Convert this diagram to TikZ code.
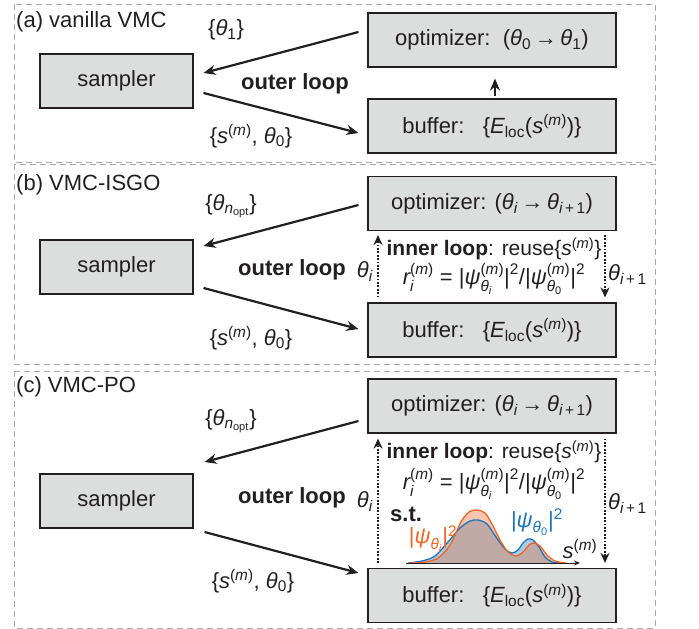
\documentclass[tikz,border=0pt]{standalone}
\usepackage{amsmath}
\usepackage{fontspec}
\setmainfont{Liberation Sans}
\usetikzlibrary{arrows.meta}
\definecolor{ink}{HTML}{231F20}
\definecolor{boxgray}{HTML}{DCDDDD}
\definecolor{framegray}{HTML}{A7A9AC}
\definecolor{psiorange}{HTML}{F26522}
\definecolor{psiblue}{HTML}{1C75BC}
\definecolor{orangefill}{HTML}{F7C6B0}
\definecolor{bluefill}{HTML}{A8CDEA}
\definecolor{mixfill}{HTML}{C1AAA6}
\newcommand{\It}[1]{\text{\itshape #1}}
\newcommand{\Rm}[1]{\text{\upshape #1}}
\newcommand{\mpar}{\Rm{(}\It{m}\Rm{)}}
\newcommand{\smm}{$\It{s}^{\mpar}$}
\newcommand{\thsub}[1]{$\It{θ}_{#1}$}
\newcommand{\thnopt}{$\It{θ}_{\It{n}_{\Rm{opt}}}$}
\newcommand{\Elocs}{$\It{E}_{\Rm{loc}}$(\smm)}
\newcommand{\rformula}{$\It{r}_{\It{i}}^{\mpar}\Rm{ = |}\It{ψ}^{\mpar}_{\It{θ}_{\It{i}}}\Rm{|}^{\Rm{2}}\Rm{/|}\It{ψ}^{\mpar}_{\It{θ}_{\Rm{0}}}\Rm{|}^{\Rm{2}}$}
\newcommand{\thip}{\thsub{\It{i}\Rm{\,+\,1}}}
\begin{document}
\begin{tikzpicture}[x=1pt,y=-1pt,
  every node/.style={text=ink, font=\fontsize{22}{26}\selectfont, inner sep=0pt},
  boldlabel/.style={font=\fontsize{22}{26}\selectfont\bfseries},
  innerlabel/.style={font=\fontsize{21}{25}\selectfont},
  boxnode/.style={draw=ink, line width=1.1pt, fill=boxgray, minimum width=248pt, minimum height=54pt},
  sampbox/.style={boxnode, minimum width=153pt},
  frame/.style={draw=framegray, line width=0.9pt, dash pattern=on 6pt off 4pt},
  arr/.style={draw=ink, line width=2.2pt, -{Stealth[length=12pt,width=10pt]}},
  dotarr/.style={draw=ink, line width=1.9pt, dash pattern=on 1.8pt off 1.6pt, -{Stealth[length=10pt,width=9pt]}},
  axisarr/.style={draw=ink, line width=0.9pt, -{Stealth[length=6pt,width=5pt]}}
]
\useasboundingbox (0,0) rectangle (699,629);
% panel frames
\draw[frame] (14,4) rectangle (655,162);
\draw[frame] (14,164) rectangle (655,364);
\draw[frame] (14,371) rectangle (655,628);

% ---------------- (a)
\node[anchor=west] (titleA) at (16,22) {(a) vanilla VMC};
\node[sampbox] (samA) at (116.5,81) {sampler};
\node[boxnode] (optA) at (492,40) {optimizer:\ \ (\thsub{\Rm{0}}\,→\,\thsub{\Rm{1}})};
\node[boxnode] (bufA) at (492,126) {buffer:\ \ \ \{\Elocs\}};
\node (thA) at (226,30) {\{\thsub{\Rm{1}}\}};
\node[boldlabel] (outerA) at (295,84) {outer loop};
\node (sthA) at (251,136) {\{\smm, \thsub{\Rm{0}}\}};
\draw[arr] ([shift={(-9,-8)}]optA.west) -- ([shift={(10,-8)}]samA.east);
\draw[arr] ([shift={(10,12)}]samA.east) -- ([shift={(-9,7)}]bufA.west);
\draw[arr] ([shift={(3,-2)}]bufA.north) -- ([shift={(3,11)}]optA.south);

% ---------------- (b)
\node[anchor=west] (titleB) at (16,185) {(b) VMC-ISGO};
\node[sampbox] (samB) at (116.5,267) {sampler};
\node[boxnode] (optB) at (492,203.5) {optimizer: (\thsub{\It{i}}\,→\,\thip)};
\node[boxnode] (bufB) at (492,330) {buffer:\ \ \ \{\Elocs\}};
\node (thB) at (231,206) {\{\thnopt\}};
\node[boldlabel] (outerB) at (292,270) {outer loop};
\node[anchor=east] (thiB) at (373,272) {\thsub{\It{i}}};
\node (sthB) at (251,338) {\{\smm, \thsub{\Rm{0}}\}};
\node[innerlabel] (innerB) at (494,249) {\textbf{inner loop}: reuse\{\smm\}};
\node (rB) at (494,279) {\rformula};
\node[anchor=west] (thipB) at (608,275) {\thip};
\draw[arr] ([shift={(-9,1.5)}]optB.west) -- ([shift={(10,-21)}]samB.east);
\draw[arr] ([shift={(10,21)}]samB.east) -- ([shift={(-9,-1)}]bufB.west);
\draw[dotarr] ([shift={(-114,-5)}]bufB.north) -- ([shift={(-114,4)}]optB.south);
\draw[dotarr] ([shift={(113,4)}]optB.south) -- ([shift={(113,-5)}]bufB.north);

% ---------------- (c)
\node[anchor=west] (titleC) at (16,387) {(c) VMC-PO};
\node[sampbox] (samC) at (116.5,501) {sampler};
\node[boxnode] (optC) at (492,406) {optimizer: (\thsub{\It{i}}\,→\,\thip)};
\node[boxnode] (bufC) at (492,595.5) {buffer:\ \ \ \{\Elocs\}};
\node (thC) at (231,421) {\{\thnopt\}};
\node[boldlabel] (outerC) at (292,498) {outer loop};
\node[anchor=east] (thiC) at (373,502) {\thsub{\It{i}}};
\node (sthC) at (253,581) {\{\smm, \thsub{\Rm{0}}\}};
\node[innerlabel] (innerC) at (494,452) {\textbf{inner loop}: reuse\{\smm\}};
\node (rC) at (494,484) {\rformula};
\node[anchor=west, boldlabel] (stC) at (390,514) {s.t.};
\node[anchor=west] (thipC) at (608,504) {\thip};
\draw[arr] ([shift={(-9,15)}]optC.west) -- ([shift={(11,-39)}]samC.east);
\draw[arr] ([shift={(11,31)}]samC.east) -- ([shift={(-9,-22.5)}]bufC.west);
\draw[dotarr] ([shift={(-114,-5)}]bufC.north) -- ([shift={(-114,5)}]optC.south);
\draw[dotarr] ([shift={(113,5)}]optC.south) -- ([shift={(113,-5)}]bufC.north);

% distributions
\fill[bluefill] plot[smooth] coordinates {(408,563) (422,561) (435,556) (448,542) (460,528) (470,521) (478,520) (487,524) (496,537) (505,549) (512,553) (518,550) (523,543) (528,539) (533,540) (539,547) (545,557) (552,562) (560,563)} -- cycle;
\fill[orangefill] plot[smooth] coordinates {(410,563) (425,562) (438,558) (450,545) (461,522) (469,512) (477,510) (485,513) (492,524) (500,540) (508,552) (516,556) (523,552) (529,545) (534,543) (540,546) (547,555) (555,561) (566,563)} -- cycle;
\begin{scope}
\clip plot[smooth] coordinates {(410,563) (425,562) (438,558) (450,545) (461,522) (469,512) (477,510) (485,513) (492,524) (500,540) (508,552) (516,556) (523,552) (529,545) (534,543) (540,546) (547,555) (555,561) (566,563)} -- cycle;
\fill[mixfill] plot[smooth] coordinates {(408,563) (422,561) (435,556) (448,542) (460,528) (470,521) (478,520) (487,524) (496,537) (505,549) (512,553) (518,550) (523,543) (528,539) (533,540) (539,547) (545,557) (552,562) (560,563)} -- cycle;
\end{scope}
\draw[psiblue, line width=1.3pt] plot[smooth] coordinates {(408,563) (422,561) (435,556) (448,542) (460,528) (470,521) (478,520) (487,524) (496,537) (505,549) (512,553) (518,550) (523,543) (528,539) (533,540) (539,547) (545,557) (552,562) (560,563)};
\draw[psiorange, line width=1.3pt] plot[smooth] coordinates {(410,563) (425,562) (438,558) (450,545) (461,522) (469,512) (477,510) (485,513) (492,524) (500,540) (508,552) (516,556) (523,552) (529,545) (534,543) (540,546) (547,555) (555,561) (566,563)};
\coordinate (axL) at (406,563);
\coordinate (axR) at (580,563);
\draw[axisarr] (axL) -- (axR);
\node[text=psiorange] (psiI) at (433,539) {|$\It{ψ}_{\It{θ}_{\It{i}}}$|$^{\Rm{2}}$};
\node[text=psiblue] (psi0) at (537,522) {|$\It{ψ}_{\It{θ}_{\Rm{0}}}$|$^{\Rm{2}}$};
\node (sax) at (580,549) {\smm};
\end{tikzpicture}
\end{document}
